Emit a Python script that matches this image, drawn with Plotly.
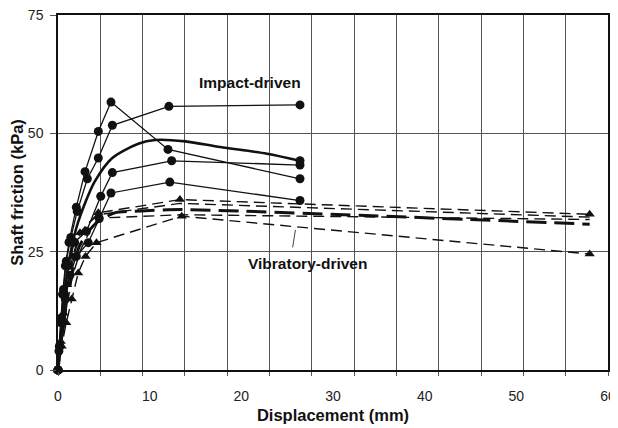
import plotly.graph_objects as go

# ---------------- data ----------------
# Impact-driven piles (solid, circles)
imp_a_x = [0, 0.1, 0.3, 0.5, 0.8, 1.2, 2.0, 2.95, 4.4, 5.78, 12.0, 26.4]
imp_a_y = [0, 4, 10, 16, 22, 27, 34.4, 41.9, 50.4, 56.6, 46.6, 40.4]
imp_b_x = [0, 0.15, 0.35, 0.6, 0.9, 1.4, 2.1, 3.2, 4.4, 5.93, 12.1, 26.4]
imp_b_y = [0, 5, 11, 17, 23, 28, 33.5, 40.4, 44.8, 51.7, 55.7, 56.0]
imp_c_x = [0, 0.2, 0.4, 0.7, 1.1, 1.8, 3.1, 4.66, 5.93, 12.4, 26.4]
imp_c_y = [0, 5, 10, 16, 22, 27, 29.3, 36.7, 41.7, 44.2, 43.3]
imp_d_x = [0, 0.2, 0.5, 0.8, 1.3, 2.0, 3.3, 4.5, 5.78, 12.2, 26.4]
imp_d_y = [0, 5, 10, 15, 20, 24, 26.9, 32.0, 37.4, 39.7, 35.8]
imp_mean_x = [0, 0.3, 0.7, 1.2, 2.0, 3.0, 4.0, 5.86, 8.76, 10.6, 13.9, 17.7, 22.8, 26.4]
imp_mean_y = [0, 8, 16, 23, 30, 35.5, 39.8, 44.7, 47.8, 48.6, 48.3, 47.1, 45.7, 44.2]

# Vibratory-driven piles (dashed, triangles)
vib_1_x = [0, 0.3, 0.6, 1.0, 1.6, 2.4, 4.4, 13.3, 58]
vib_1_y = [0, 6, 12, 18, 24, 29, 33.2, 36.0, 32.9]
vib_2_x = [0, 0.4, 0.8, 1.3, 2.0, 3.0, 4.4, 13.3, 58]
vib_2_y = [0, 7, 14, 20, 26, 30.5, 32.8, 35.2, 32.3]
vib_mean_x = [0, 0.4, 0.9, 1.5, 2.3, 3.4, 4.4, 6.2, 9.1, 13.4, 58]
vib_mean_y = [0, 7, 14, 20, 26, 29.5, 31.4, 33.2, 33.6, 33.9, 30.8]
vib_4_x = [0, 0.5, 1.0, 1.6, 2.5, 3.5, 4.4, 13.5, 58]
vib_4_y = [0, 7, 14, 20, 25.5, 29.5, 32.1, 32.8, 31.8]
vib_5_x = [0, 0.4, 0.9, 1.5, 2.2, 3.0, 4.2, 13.5, 58]
vib_5_y = [0, 5, 10, 15, 20.5, 24, 26.9, 32.5, 24.5]

x_ticks = [0, 10, 20, 30, 40, 50, 60]
y_ticks = [0, 25, 50, 75]

FONT = "Liberation Sans, Arial, sans-serif"
BLACK = "#111111"

fig = go.Figure()

for xs, ys in [(imp_a_x, imp_a_y), (imp_b_x, imp_b_y), (imp_c_x, imp_c_y), (imp_d_x, imp_d_y)]:
    fig.add_trace(go.Scatter(x=xs, y=ys, mode="lines+markers",
                             line=dict(color=BLACK, width=1.3),
                             marker=dict(symbol="circle", size=9, color=BLACK),
                             showlegend=False, hoverinfo="skip", cliponaxis=False))

fig.add_trace(go.Scatter(x=imp_mean_x, y=imp_mean_y, mode="lines",
                         line=dict(color=BLACK, width=2.6, shape="spline", smoothing=0.8),
                         showlegend=False, hoverinfo="skip"))
fig.add_trace(go.Scatter(x=imp_mean_x[-1:], y=imp_mean_y[-1:], mode="markers",
                         marker=dict(symbol="circle", size=9, color=BLACK),
                         showlegend=False, hoverinfo="skip"))

for xs, ys in [(vib_1_x, vib_1_y), (vib_5_x, vib_5_y)]:
    fig.add_trace(go.Scatter(x=xs, y=ys, mode="lines+markers",
                             line=dict(color=BLACK, width=1.4, dash="11px,6px"),
                             marker=dict(symbol="triangle-up", size=9, color=BLACK),
                             showlegend=False, hoverinfo="skip", cliponaxis=False))
for xs, ys in [(vib_2_x, vib_2_y), (vib_4_x, vib_4_y)]:
    fig.add_trace(go.Scatter(x=xs, y=ys, mode="lines",
                             line=dict(color=BLACK, width=1.4, dash="11px,6px"),
                             showlegend=False, hoverinfo="skip"))
fig.add_trace(go.Scatter(x=vib_mean_x, y=vib_mean_y, mode="lines",
                         line=dict(color=BLACK, width=3, dash="20px,8px", shape="spline", smoothing=0.6),
                         showlegend=False, hoverinfo="skip"))

fig.add_annotation(x=20.9, y=60.8, text="<b>Impact-driven</b>", showarrow=False,
                   font=dict(family=FONT, size=15.5, color=BLACK))
fig.add_annotation(x=27.2, y=22.6, text="<b>Vibratory-driven</b>", showarrow=False,
                   font=dict(family=FONT, size=15.5, color=BLACK))
fig.add_shape(type="line", x0=25.6, y0=25.9, x1=25.9, y1=29.6,
              line=dict(color="#444", width=1))

fig.update_xaxes(range=[0, 60], tickvals=x_ticks, showgrid=False, zeroline=False,
                 showline=True, linecolor=BLACK, linewidth=1.5, mirror=True,
                 ticks="", ticklabelstandoff=12, automargin=False, ticklabeloverflow="allow",
                 tickfont=dict(family=FONT, size=14, color="#222"),
                 minor=dict(tick0=0, dtick=60 / 13, showgrid=True, gridcolor="#555", gridwidth=1,
                            ticks="outside", ticklen=4, tickcolor="#555"),
                 title=dict(text="<b>Displacement (mm)</b>", standoff=7,
                            font=dict(family=FONT, size=16.5, color=BLACK)))
fig.update_yaxes(range=[0, 75], tickvals=y_ticks, showgrid=True, gridcolor="#555", gridwidth=1,
                 zeroline=False, showline=True, linecolor=BLACK, linewidth=1.5, mirror=True,
                 ticks="outside", ticklen=6, tickcolor="#555", automargin=False,
                 ticklabelstandoff=4, ticklabeloverflow="allow",
                 tickfont=dict(family=FONT, size=14, color="#222"),
                 title=dict(text="<b>Shaft friction (kPa)</b>", standoff=5,
                            font=dict(family=FONT, size=16.5, color=BLACK)))

# The page adds an 8px body margin, so the figure is sized to fit the 618x428 window.
fig.update_layout(width=610, height=420,
                  margin=dict(l=50, r=10, t=7, b=58, autoexpand=False),
                  plot_bgcolor="white", paper_bgcolor="white")

fig.write_html("out.html")
